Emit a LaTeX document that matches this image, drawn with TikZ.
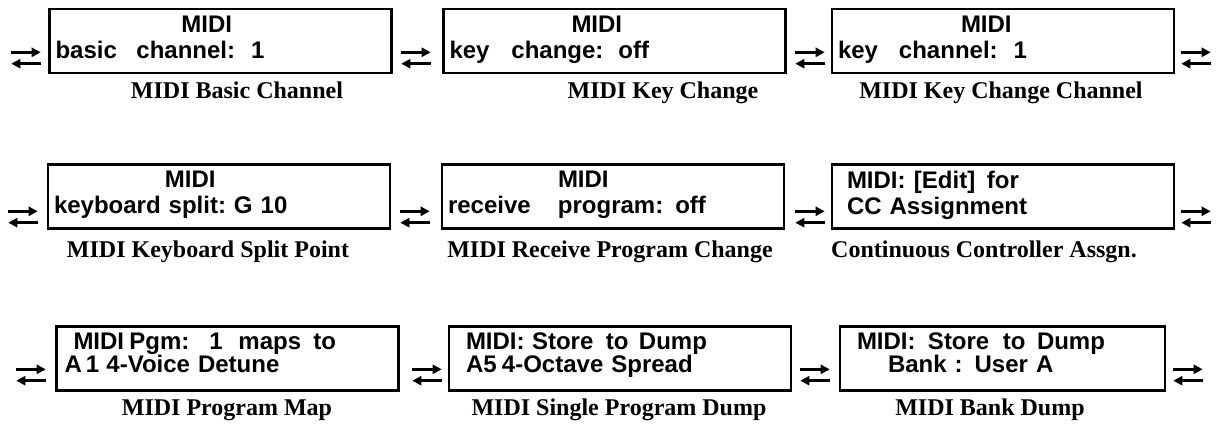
\documentclass[tikz,border=0pt]{standalone}
\usepackage{fontspec}
\newfontfamily\lcdfont{Liberation Sans}
\newfontfamily\capfont{Liberation Serif}
\usetikzlibrary{positioning}
\usetikzlibrary{arrows.meta}

\begin{document}
\begin{tikzpicture}[x=1pt, y=-1pt,
                    lcd/.style={rectangle, draw, line width=2.5pt, minimum width=342pt, minimum height=64pt,
                                inner xsep=6pt, inner ysep=0pt, text width=330pt, align=left, text depth=34pt,
                                font=\lcdfont\bfseries\fontsize{24}{26}\selectfont},
                    lcdlow/.style={lcd, text depth=34pt, font=\lcdfont\bfseries\fontsize{24}{23}\selectfont},
                    caption/.style={anchor=base, inner sep=0pt, font=\capfont\bfseries\fontsize{24}{28}\selectfont},
                    swapnode/.style={rectangle, minimum width=29pt, minimum height=11pt, inner sep=0pt},
                    swaparrow/.style={line width=2.6pt, -{Triangle[length=9pt, width=9pt]}},
                   ]
  \useasboundingbox (0,0) rectangle (1219,438);

  %Displays
  \node[lcd] (basic)   at (220.5,41) {\hspace*{126pt}MIDI\\\makebox[81pt][l]{basic}channel:\ \ 1};
  \node[lcd] (keychg)  at (614.5,41) {\hspace*{122pt}MIDI\\\makebox[62pt][l]{key}\makebox[107pt][l]{change:}off};
  \node[lcd] (keychan) at (1003,41)  {\hspace*{123pt}MIDI\\\makebox[61pt][l]{key}channel:\ \ 1};

  \node[lcd] (split)   at (219,196.5) {\hspace*{111pt}MIDI\\\makebox[180pt][l]{keyboard split:}G 10};
  \node[lcd] (recv)    at (613,196.5) {\hspace*{110pt}MIDI\\\makebox[110pt][l]{receive}program: off};
  \node[lcd] (ccassgn) at (1003,196.5) {\hspace*{9pt}\makebox[67pt][l]{MIDI:}\makebox[73pt][l]{[Edit]}for\\\hspace*{9pt}CC Assignment};

  \node[lcdlow] (pgmmap) at (227.5,358.5) {\hspace*{11pt}\makebox[56pt][l]{MIDI}\makebox[80pt][l]{Pgm:}\makebox[29pt][l]{1}\makebox[75pt][l]{maps}to\\\hspace*{2pt}\makebox[42pt][l]{A\,1}4-Voice Detune};
  \node[lcdlow] (single) at (620,358.5)   {\hspace*{11pt}\makebox[66pt][l]{MIDI:}\makebox[74pt][l]{Store}\makebox[33pt][l]{to}Dump\\\hspace*{11pt}\makebox[36pt][l]{A5}4-Octave Spread};
  \node[lcdlow, minimum width=325pt, text width=313pt] (bank) at (1002.5,358.5) {\hspace*{11pt}\makebox[71pt][l]{MIDI:}\makebox[75pt][l]{Store}\makebox[34pt][l]{to}Dump\\\hspace*{42pt}Bank : User A};

  %Captions
  \node[caption] (basic_c)   at (237,99)  {MIDI Basic Channel};
  \node[caption] (keychg_c)  at (663,99)  {MIDI Key Change};
  \node[caption] (keychan_c) at (1001,99) {MIDI Key Change Channel};
  \node[caption] (split_c)   at (208,258) {MIDI Keyboard Split Point};
  \node[caption] (recv_c)    at (610,258) {MIDI Receive Program Change};
  \node[caption] (ccassgn_c) at (984,258) {Continuous Controller Assgn.};
  \node[caption] (pgmmap_c)  at (227,416) {MIDI Program Map};
  \node[caption] (single_c)  at (619,416) {MIDI Single Program Dump};
  \node[caption] (bank_c)    at (990,416) {MIDI Bank Dump};

  %Swap signs
  \node[swapnode] (s11) at (26,58)   {};
  \node[swapnode] (s12) at (416,58)  {};
  \node[swapnode] (s13) at (810,58)  {};
  \node[swapnode] (s14) at (1196,58) {};
  \node[swapnode] (s21) at (23,217)   {};
  \node[swapnode] (s22) at (415,217)  {};
  \node[swapnode] (s23) at (810,217)  {};
  \node[swapnode] (s24) at (1196,217) {};
  \node[swapnode] (s31) at (31,375)   {};
  \node[swapnode] (s32) at (427,375)  {};
  \node[swapnode] (s33) at (815,375)  {};
  \node[swapnode] (s34) at (1188,375) {};

  %Arrows
  \foreach \s in {s11,s12,s13,s14,s21,s22,s23,s24,s31,s32,s33,s34}{
    \draw[swaparrow] (\s.north west) -- (\s.north east);
    \draw[swaparrow] (\s.south east) -- (\s.south west);
  }
\end{tikzpicture}
\end{document}
